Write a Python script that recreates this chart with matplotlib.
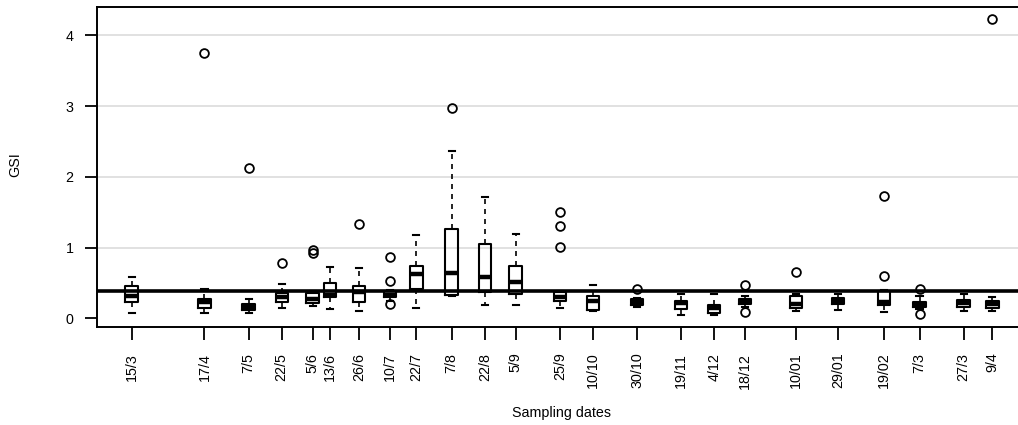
import datetime as dt
import matplotlib
matplotlib.use("Agg")
import matplotlib.pyplot as plt

plt.rcParams['font.family'] = ['Liberation Sans', 'DejaVu Sans']

# Sampling dates (tick labels) and the actual dates used for positions
labels = ['15/3', '17/4', '7/5', '22/5', '5/6', '13/6', '26/6', '10/7', '22/7',
          '7/8', '22/8', '5/9', '25/9', '10/10', '30/10', '19/11', '4/12', '18/12',
          '10/01', '29/01', '19/02', '7/3', '27/3', '9/4']
dates = ['2010-03-15', '2010-04-17', '2010-05-07', '2010-05-22', '2010-06-05',
         '2010-06-13', '2010-06-26', '2010-07-10', '2010-07-22', '2010-08-07',
         '2010-08-22', '2010-09-05', '2010-09-25', '2010-10-10', '2010-10-30',
         '2010-11-19', '2010-12-04', '2010-12-18', '2011-01-10', '2011-01-29',
         '2011-02-19', '2011-03-07', '2011-03-27', '2011-04-09']

# GSI box statistics
whislo = [0.07, 0.08, 0.08, 0.15, 0.18, 0.13, 0.11, 0.25, 0.15, 0.31, 0.19, 0.19,
          0.14, 0.10, 0.165, 0.05, 0.05, 0.155, 0.10, 0.12, 0.09, 0.13, 0.11, 0.11]
q1 = [0.23, 0.14, 0.12, 0.23, 0.22, 0.30, 0.23, 0.30, 0.42, 0.33, 0.37, 0.34,
      0.24, 0.12, 0.19, 0.13, 0.07, 0.20, 0.14, 0.20, 0.19, 0.155, 0.155, 0.14]
med = [0.32, 0.23, 0.155, 0.30, 0.28, 0.33, 0.37, 0.33, 0.62, 0.64, 0.59, 0.52,
       0.30, 0.25, 0.23, 0.21, 0.14, 0.245, 0.20, 0.245, 0.23, 0.20, 0.21, 0.20]
q3 = [0.45, 0.27, 0.20, 0.36, 0.36, 0.495, 0.46, 0.39, 0.74, 1.27, 1.05, 0.74,
      0.37, 0.31, 0.27, 0.245, 0.19, 0.27, 0.315, 0.29, 0.39, 0.235, 0.26, 0.25]
whishi = [0.58, 0.41, 0.28, 0.49, 0.38, 0.72, 0.71, 0.40, 1.18, 2.36, 1.72, 1.19,
          0.38, 0.47, 0.29, 0.35, 0.35, 0.315, 0.35, 0.34, 0.40, 0.315, 0.34, 0.30]
fliers = [[], [3.75], [2.13], [0.78], [0.92, 0.96], [], [1.33], [0.86, 0.53, 0.20],
          [], [2.97], [], [], [1.01, 1.30, 1.51], [], [0.42], [], [], [0.47, 0.085],
          [0.65], [], [0.60, 1.73], [0.42, 0.06], [], [4.23]]

ref_level = 0.38

start = dt.date(2010, 3, 15)
pos = [(dt.date.fromisoformat(d) - start).days for d in dates]

stats = []
for i in range(len(labels)):
    stats.append({'whislo': whislo[i], 'q1': q1[i], 'med': med[i],
                  'q3': q3[i], 'whishi': whishi[i], 'fliers': fliers[i]})

fig = plt.figure(figsize=(10.18, 4.25), dpi=100)
ax = fig.add_axes([97 / 1018, 1 - 327 / 425, (1027 - 97) / 1018, 320 / 425])

for y in [1, 2, 3, 4]:
    ax.axhline(y, color='#dedede', lw=1.3, zorder=0)

ax.axhline(ref_level, color='black', lw=2.6, zorder=3)

ax.bxp(stats, positions=pos, widths=5.6, showfliers=True, patch_artist=False,
       boxprops=dict(color='black', lw=1.5),
       whiskerprops=dict(color='black', lw=1.2, linestyle=(0, (3, 3))),
       capprops=dict(color='black', lw=1.5),
       medianprops=dict(color='black', lw=3.2),
       flierprops=dict(marker='o', markersize=6.3, markerfacecolor='none',
                       markeredgecolor='black', markeredgewidth=1.3),
       capwidths=2.8, manage_ticks=False)

ax.set_xlim(-15.7, 405.7)
ax.set_ylim(-0.123, 4.403)

ax.set_xticks(pos)
ax.set_xticklabels(labels, rotation=90, fontsize=10.3)
ax.set_yticks([0, 1, 2, 3, 4])
ax.set_yticklabels(['0', '1', '2', '3', '4'], fontsize=10.3)
ax.tick_params(axis='both', direction='out', length=9, width=1.3)
ax.tick_params(axis='x', pad=9.5)
ax.tick_params(axis='y', pad=8)

for s in ax.spines.values():
    s.set_linewidth(1.4)

fig.text(15 / 1018, 1 - 165 / 425, 'GSI', rotation=90, fontsize=10.3,
         ha='center', va='center')
fig.text(562 / 1018, 1 - 413 / 425, 'Sampling dates', fontsize=10.3,
         ha='center', va='center')

fig.savefig('out.png', dpi=100)
